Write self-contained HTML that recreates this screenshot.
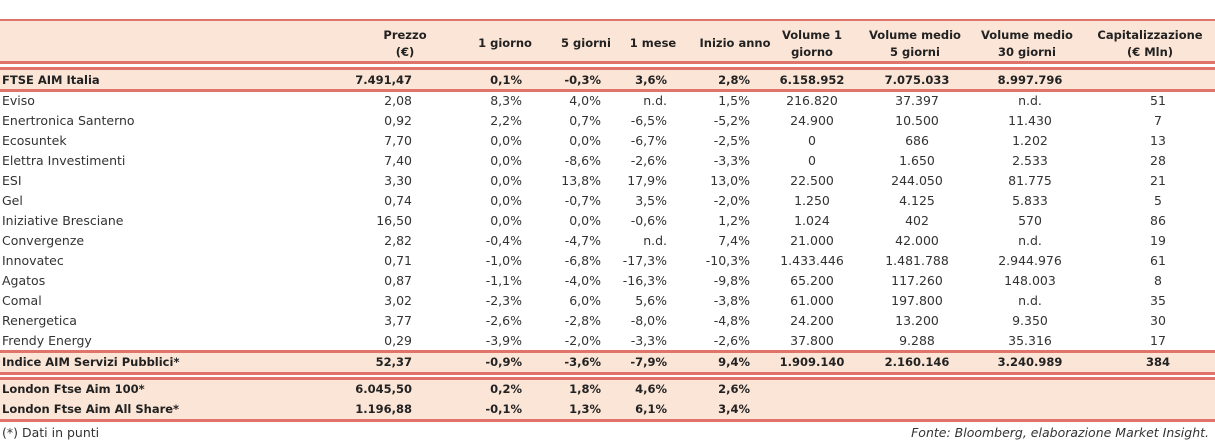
<!DOCTYPE html>
<html><head><meta charset="utf-8">
<style>
body{margin:0;width:1215px;height:443px;background:#fff;position:relative;overflow:hidden;font-family:"DejaVu Sans","Liberation Sans",sans-serif;color:#333}
.band{position:absolute;left:0;width:1215px;background:#fbe5d6}
.ln{position:absolute;left:0;width:1215px;background:#e0736a}
.t{position:absolute;font-size:12.5px;white-space:nowrap;line-height:14px}
.b{font-weight:bold;font-size:11.5px;color:#222}
</style></head><body>
<div class="band" style="top:21px;height:41px"></div>
<div class="band" style="top:70px;height:21px"></div>
<div class="band" style="top:353px;height:20px"></div>
<div class="band" style="top:380px;height:41px"></div>
<div class="ln" style="top:19px;height:2px"></div>
<div class="ln" style="top:61px;height:3px"></div>
<div class="ln" style="top:67px;height:3px"></div>
<div class="ln" style="top:89px;height:3px"></div>
<div class="ln" style="top:350px;height:3px"></div>
<div class="ln" style="top:372px;height:3px"></div>
<div class="ln" style="top:377px;height:3px"></div>
<div class="ln" style="top:419px;height:3px"></div>
<div id="root"></div>
<div class="t" style="left:2px;top:426px">(*) Dati in punti</div>
<div class="t" style="right:6px;top:426px;font-style:italic">Fonte: Bloomberg, elaborazione Market Insight.</div>
<script>
const headers=[["Prezzo","(€)"],["1 giorno"],["5 giorni"],["1 mese"],["Inizio anno"],["Volume 1","giorno"],["Volume medio","5 giorni"],["Volume medio","30 giorni"],["Capitalizzazione","(€ Mln)"]];
const headerCenters=[405,505,586,653,735,812,915,1027,1150];
const colPos=[[412,'r'],[522,'r'],[601,'r'],[667,'r'],[750,'r'],[812,'c'],[917,'c'],[1030,'c'],[1158,'c']];
const names=["FTSE AIM Italia","Eviso","Enertronica Santerno","Ecosuntek","Elettra Investimenti","ESI","Gel","Iniziative Bresciane","Convergenze","Innovatec","Agatos","Comal","Renergetica","Frendy Energy","Indice AIM Servizi Pubblici*","London Ftse Aim 100*","London Ftse Aim All Share*"];
const values=[
["7.491,47","0,1%","-0,3%","3,6%","2,8%","6.158.952","7.075.033","8.997.796",""],
["2,08","8,3%","4,0%","n.d.","1,5%","216.820","37.397","n.d.","51"],
["0,92","2,2%","0,7%","-6,5%","-5,2%","24.900","10.500","11.430","7"],
["7,70","0,0%","0,0%","-6,7%","-2,5%","0","686","1.202","13"],
["7,40","0,0%","-8,6%","-2,6%","-3,3%","0","1.650","2.533","28"],
["3,30","0,0%","13,8%","17,9%","13,0%","22.500","244.050","81.775","21"],
["0,74","0,0%","-0,7%","3,5%","-2,0%","1.250","4.125","5.833","5"],
["16,50","0,0%","0,0%","-0,6%","1,2%","1.024","402","570","86"],
["2,82","-0,4%","-4,7%","n.d.","7,4%","21.000","42.000","n.d.","19"],
["0,71","-1,0%","-6,8%","-17,3%","-10,3%","1.433.446","1.481.788","2.944.976","61"],
["0,87","-1,1%","-4,0%","-16,3%","-9,8%","65.200","117.260","148.003","8"],
["3,02","-2,3%","6,0%","5,6%","-3,8%","61.000","197.800","n.d.","35"],
["3,77","-2,6%","-2,8%","-8,0%","-4,8%","24.200","13.200","9.350","30"],
["0,29","-3,9%","-2,0%","-3,3%","-2,6%","37.800","9.288","35.316","17"],
["52,37","-0,9%","-3,6%","-7,9%","9,4%","1.909.140","2.160.146","3.240.989","384"],
["6.045,50","0,2%","1,8%","4,6%","2,6%","","","",""],
["1.196,88","-0,1%","1,3%","6,1%","3,4%","","","",""]];
const boldRows=[0,14,15,16];
const rowY=[73,94,114,134,154,174,194,214,234,254,274,294,314,334,355,382,402];
const root=document.getElementById('root');
function mk(txt,x,y,align,bold){
  const d=document.createElement('div');
  d.className='t'+(bold?' b':'');
  d.textContent=txt;
  d.style.top=y+'px';
  if(align==='r'){d.style.right=(1215-x)+'px';}
  else if(align==='c'){d.style.left=(x-100)+'px';d.style.width='200px';d.style.textAlign='center';}
  else d.style.left=x+'px';
  root.appendChild(d);return d;
}
headers.forEach((h,i)=>{
  h.forEach((line,j)=>{
    const y=h.length===1?36:(28+j*17);
    const d=mk(line,headerCenters[i],y,'c',true);
    
    
  });
});
names.forEach((n,r)=>{
  const b=boldRows.includes(r);
  const d=mk(n,2,rowY[r],'l',b);
  
  
  values[r].forEach((v,c)=>{
    if(!v)return;
    const e=mk(v,colPos[c][0],rowY[r],colPos[c][1],b);
    
    
  });
});
</script>
</body></html>
